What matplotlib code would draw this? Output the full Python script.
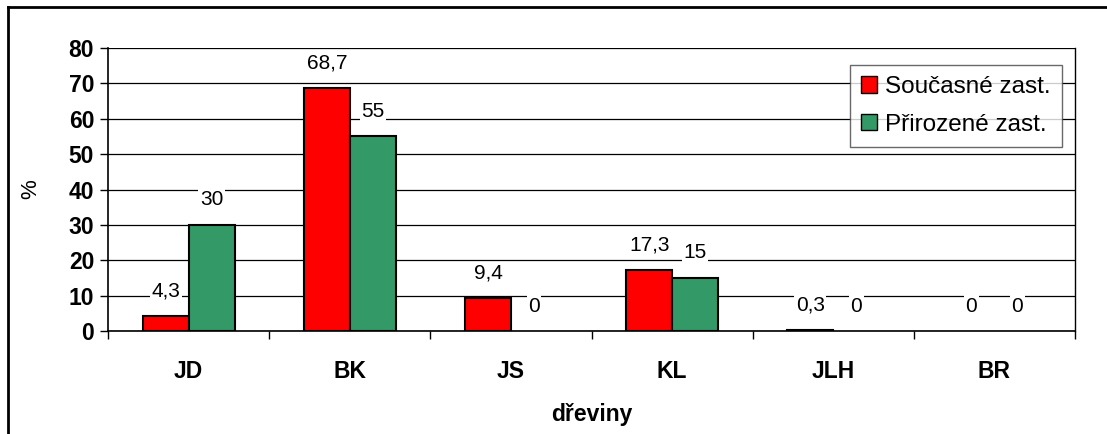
import matplotlib.pyplot as plt
from matplotlib.lines import Line2D
import numpy as np

categories = ["JD", "BK", "JS", "KL", "JLH", "BR"]
soucasne = [4.3, 68.7, 9.4, 17.3, 0.3, 0]
prirozene = [30, 55, 0, 15, 0, 0]
series_names = ["Současné zast.", "Přirozené zast."]
y_ticks = [0, 10, 20, 30, 40, 50, 60, 70, 80]

RED = "#ff0000"
GREEN = "#339966"


def fmt(v):
    return ("%g" % v).replace(".", ",")


def main() -> None:
    plt.rcParams["font.family"] = ["Liberation Sans", "DejaVu Sans"]
    fig = plt.figure(figsize=(11.07, 4.34), dpi=100)
    ax = fig.add_axes([0.0976, 0.2373, 0.8735, 0.6521])

    x = np.arange(len(categories))
    w = 0.285
    b1 = ax.bar(x - w / 2, soucasne, w, color=RED, edgecolor="black", linewidth=1.5,
                label=series_names[0], zorder=3)
    b2 = ax.bar(x + w / 2, prirozene, w, color=GREEN, edgecolor="black", linewidth=1.5,
                label=series_names[1], zorder=3)

    for bars, vals in ((b1, soucasne), (b2, prirozene)):
        for rect, v in zip(bars, vals):
            if v == 0:
                rect.set_linewidth(0)
            ax.annotate(fmt(v), (rect.get_x() + rect.get_width() / 2, v),
                        xytext=(0, 18), textcoords="offset points",
                        ha="center", va="center", fontsize=15, zorder=5,
                        bbox=dict(facecolor="white", edgecolor="none", pad=1.0))

    ax.set_xlim(-0.5, len(categories) - 0.5)
    ax.set_ylim(0, 80)
    ax.set_yticks(y_ticks)
    ax.set_yticklabels([str(t) for t in y_ticks], fontsize=16.5, fontweight="bold")
    ax.yaxis.grid(True, color="black", linewidth=0.9, zorder=0)
    ax.set_axisbelow(True)

    ax.set_xticks(np.arange(len(categories) + 1) - 0.5)
    ax.set_xticklabels([])
    ax.set_xticks(x, minor=True)
    ax.set_xticklabels(categories, minor=True, fontsize=16.5, fontweight="bold")
    ax.tick_params(axis="x", which="major", length=6, width=1, direction="out")
    ax.tick_params(axis="x", which="minor", length=0, pad=21)
    ax.tick_params(axis="y", length=6, width=1, direction="out", pad=4)

    for side in ("left", "bottom"):
        ax.spines[side].set_linewidth(1.2)
    ax.spines["top"].set_visible(False)
    ax.spines["right"].set_linewidth(1.0)

    ax.set_xlabel("dřeviny", fontsize=16.5, fontweight="bold", labelpad=14)
    ax.set_ylabel("%", fontsize=16, labelpad=20)

    leg = ax.legend(loc="upper right", bbox_to_anchor=(0.9593, 0.8502),
                    bbox_transform=fig.transFigure, fontsize=17.5, frameon=True,
                    fancybox=False, handlelength=0.65, handleheight=0.65,
                    handletextpad=0.35, borderpad=0.45, labelspacing=0.65,
                    borderaxespad=0)
    leg.get_frame().set_edgecolor("#444444")
    leg.get_frame().set_linewidth(1.0)
    for h in leg.legend_handles:
        h.set_linewidth(1.0)

    # outer chart frame (top and left edges only visible)
    fig.add_artist(Line2D([8 / 1107, 1], [1 - 7 / 434, 1 - 7 / 434],
                          transform=fig.transFigure, color="black", linewidth=2))
    fig.add_artist(Line2D([8 / 1107, 8 / 1107], [0, 1 - 7 / 434],
                          transform=fig.transFigure, color="black", linewidth=2))

    fig.savefig("out.png", dpi=100)


if __name__ == "__main__":
    main()
